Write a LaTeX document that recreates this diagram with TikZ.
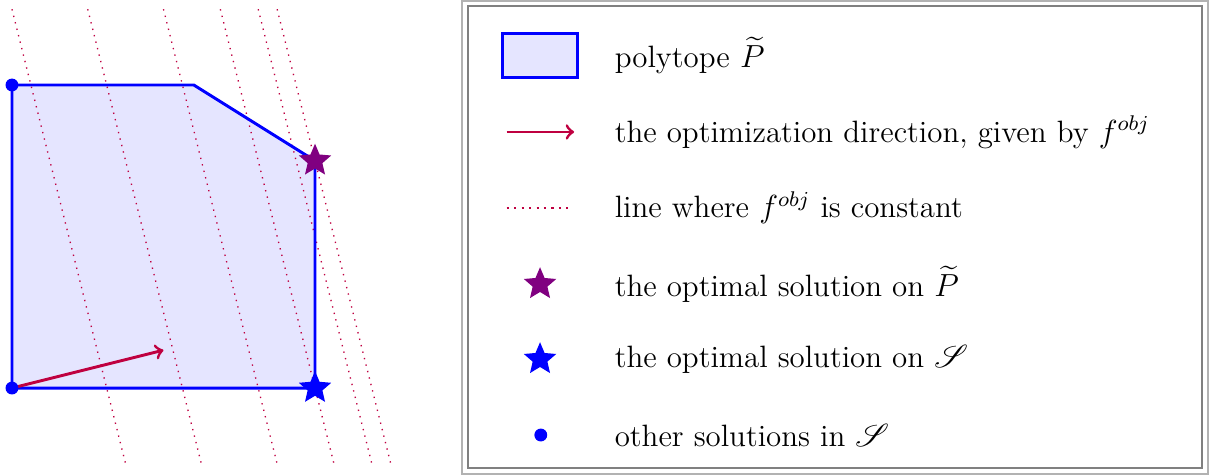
\documentclass[tikz,border=0pt]{standalone}
\usepackage{amsmath,amssymb}
\usepackage{mathrsfs}
\usetikzlibrary{shapes.geometric}
\tikzset{
  polyfill/.style={fill=blue!10},
  polyedge/.style={draw=blue,line width=1.1pt,line join=miter},
  dirarrow/.style={->,draw=purple,line width=1.1pt},
  levelline/.style={draw=purple,dotted,line width=0.5pt},
  optstar/.style={star,star points=5,star point ratio=2.2,fill,inner sep=0pt,minimum size=0.45cm},
  soldot/.style={circle,fill=blue,inner sep=0pt,minimum size=0.17cm},
  legtext/.style={anchor=west,inner sep=0pt,font=\fontsize{11.6}{14}\selectfont},
  outerframe/.style={draw=gray!60,line width=0.6pt},
  innerframe/.style={draw=gray,line width=0.6pt}
}
\begin{document}
\begin{tikzpicture}[x=1cm,y=1cm]
\useasboundingbox (-0.158,-1.149) rectangle (15.80,5.122);
% polytope
\coordinate (A) at (0,0);
\coordinate (B) at (0,4);
\coordinate (C) at (2.4,4);
\coordinate (D) at (4,3);
\coordinate (E) at (4,0);
\fill[polyfill] (A)--(B)--(C)--(D)--(E)--cycle;
% level lines 4x+y=f
\foreach \f [count=\i] in {5,9,13,16,18,19}{
  \coordinate (lt\i) at ({(\f-5)/4},5);
  \coordinate (lb\i) at ({(\f+1)/4},-1);
  \draw[levelline] (lt\i) -- (lb\i);
}
\draw[polyedge] (A)--(B)--(C)--(D)--(E)--cycle;
\coordinate (dir) at (2,0.5);
\draw[dirarrow] (A) -- (dir);
\node[soldot] (vA) at (A) {};
\node[soldot] (vB) at (B) {};
\node[optstar,fill=violet] (sD) at (D) {};
\node[optstar,fill=blue] (sE) at (E) {};
% legend frame
\draw[outerframe] (5.94,-1.135) rectangle (15.79,5.109);
\draw[innerframe] (6.02,-1.056) rectangle (15.71,5.043);
% legend rows
\node[draw=blue,line width=1.1pt,fill=blue!10,minimum width=1cm,minimum height=0.57cm,inner sep=0pt] (k1) at (6.97,4.39) {};
\node[legtext] (t1) at (7.95,4.39) {polytope $\widetilde{P}$};
\coordinate (k2a) at (6.53,3.38);
\coordinate (k2b) at (7.42,3.38);
\draw[dirarrow] (k2a) -- (k2b);
\node[legtext] (t2) at (7.95,3.38) {the optimization direction, given by $f^{obj}$};
\coordinate (k3a) at (6.53,2.38);
\coordinate (k3b) at (7.40,2.38);
\draw[levelline,line width=0.8pt] (k3a) -- (k3b);
\node[legtext] (t3) at (7.95,2.38) {line where $f^{obj}$ is constant};
\node[optstar,fill=violet] (k4) at (6.97,1.37) {};
\node[legtext] (t4) at (7.95,1.37) {the optimal solution on $\widetilde{P}$};
\node[optstar,fill=blue] (k5) at (6.97,0.38) {};
\node[legtext] (t5) at (7.95,0.38) {the optimal solution on $\mathscr{S}$};
\node[soldot] (k6) at (6.98,-0.62) {};
\node[legtext] (t6) at (7.95,-0.62) {other solutions in $\mathscr{S}$};
\end{tikzpicture}
\end{document}
